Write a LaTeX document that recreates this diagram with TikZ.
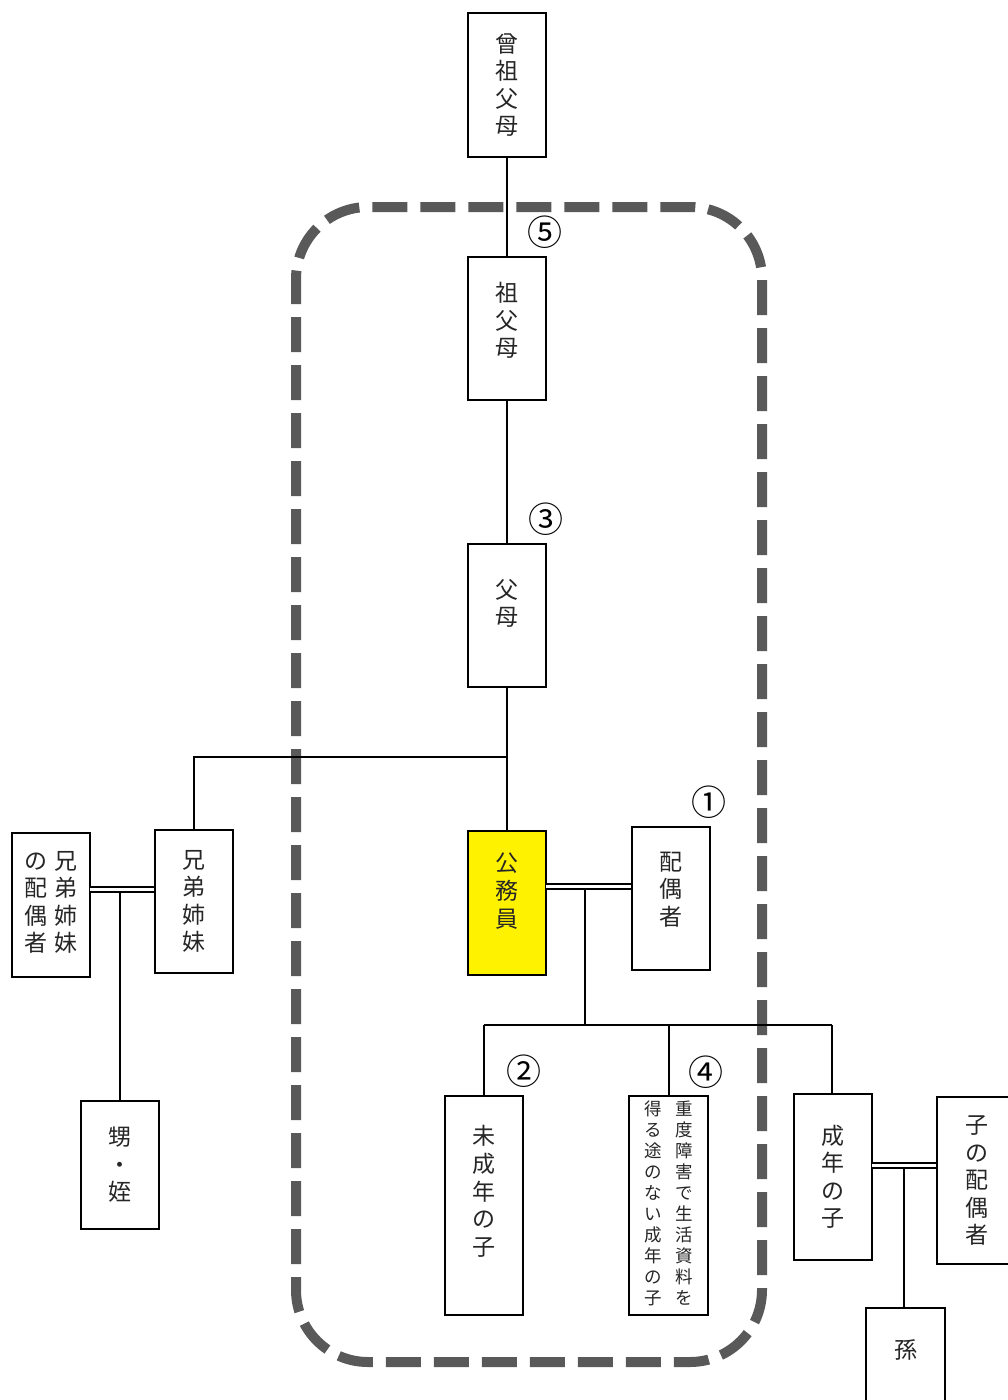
\documentclass[tikz,border=0pt]{standalone}
\usepackage{fontspec}
\newfontfamily\jp{Noto Sans CJK JP}
\newcommand{\vcol}[1]{\begin{tabular}[c]{@{}c@{}}#1\end{tabular}}
\newcommand{\vt}[2]{\raisebox{#1}[\height][\depth]{\vcol{#2}}}
\begin{document}
\begin{tikzpicture}[x=1pt,y=-1pt,
  box/.style={draw=black, line width=1.3pt, fill=white, minimum width=78pt, inner sep=0pt,
    font=\jp\fontsize{23}{27.5}\selectfont, text=black!85, align=center},
  link/.style={line width=2pt, black},
  dbl/.style={double=white, double distance=2.4pt, line width=2pt, black},
  num/.style={font=\jp\fontsize{35}{35}\selectfont, inner sep=0pt},
  frame/.style={line width=10pt, draw=black!65, dash pattern=on 35pt off 13pt, dash phase=10pt, rounded corners=72pt}]
\useasboundingbox (0,0) rectangle (1007,1400);
\fill[white] (0,0) rectangle (1007,1400);
% dashed frame
\draw[frame] (296,207) rectangle (762,1362);
% nodes
\node[box, minimum height=144pt] (ggp) at (507,85) {曾\\祖\\父\\母};
\node[box, minimum height=143pt] (gp) at (507,328.5) {\vt{5pt}{祖\\父\\母}};
\node[box, minimum height=143pt] (par) at (507,615.5) {\vt{9pt}{父\\母}};
\node[box, minimum height=144pt, fill=yellow, line width=2.8pt] (me) at (507,903) {\vt{9pt}{公\\務\\員}};
\node[box, minimum height=143pt] (sp) at (671,898.5) {\vt{6pt}{配\\偶\\者}};
\node[box, minimum height=143pt] (sib) at (194,901.5) {兄\\弟\\姉\\妹};
\node[box, minimum height=144pt] (sibsp) at (51,905) {\vcol{の\\配\\偶\\者}\hspace{7pt}\vcol{兄\\弟\\姉\\妹}};
\node[box, minimum height=128pt] (nep) at (120,1165) {甥\\・\\姪};
\node[box, minimum height=219pt] (minor) at (484,1205.5) {\vt{11pt}{未\\成\\年\\の\\子}};
\node[box, minimum height=219pt, minimum width=79pt, font=\jp\fontsize{17.5}{21}\selectfont] (dis) at (668.5,1205.5) {\vcol{得\\る\\途\\の\\な\\い\\成\\年\\の\\子}\hspace{14pt}\vcol{重\\度\\障\\害\\で\\生\\活\\資\\料\\を}};
\node[box, minimum height=166pt] (adult) at (833,1177) {成\\年\\の\\子};
\node[box, minimum height=167pt, minimum width=80pt] (csp) at (977,1180.5) {子\\の\\配\\偶\\者};
\node[box, minimum height=110pt, minimum width=79pt] (gc) at (905.5,1363) {\vt{10pt}{孫}};
% connectors
\draw[link] (ggp.south) -- (gp.north);
\draw[link] (gp.south) -- (par.north);
\draw[link] (par.south) -- (me.north);
\coordinate (j1) at (507,757);
\draw[link] (j1) -- (j1 -| sib.north) -- (sib.north);
% spouse
\coordinate (m1) at (546,886.5);
\draw[dbl] (m1) -- (m1 -| sp.west);
\coordinate (m2) at (585,889);
\coordinate (m3) at (585,1025);
\draw[link] (m2) -- (m3);
\coordinate (cl) at (484,1025);
\coordinate (cr) at (832,1025);
\draw[link] (cl) -- (cr);
\draw[link] (cl) -- (minor.north);
\draw[link] (dis.north |- cl) -- (dis.north);
\draw[link] (cr) -- (cr |- adult.north);
% sibling spouse
\coordinate (s1) at (90,889.5);
\draw[dbl] (s1) -- (s1 -| sib.west);
\coordinate (s2) at (120,892);
\draw[link] (s2) -- (nep.north);
% child spouse
\coordinate (c1) at (872,1165.5);
\draw[dbl] (c1) -- (c1 -| csp.west);
\coordinate (c2) at (904,1168);
\draw[link] (c2) -- (c2 |- gc.north);
% numbers
\node[num] (n5) at (545,232) {⑤};
\node[num] (n3) at (546,519) {③};
\node[num] (n1) at (709,802) {①};
\node[num] (n2) at (524,1071) {②};
\node[num] (n4) at (706,1072) {④};
\end{tikzpicture}
\end{document}
